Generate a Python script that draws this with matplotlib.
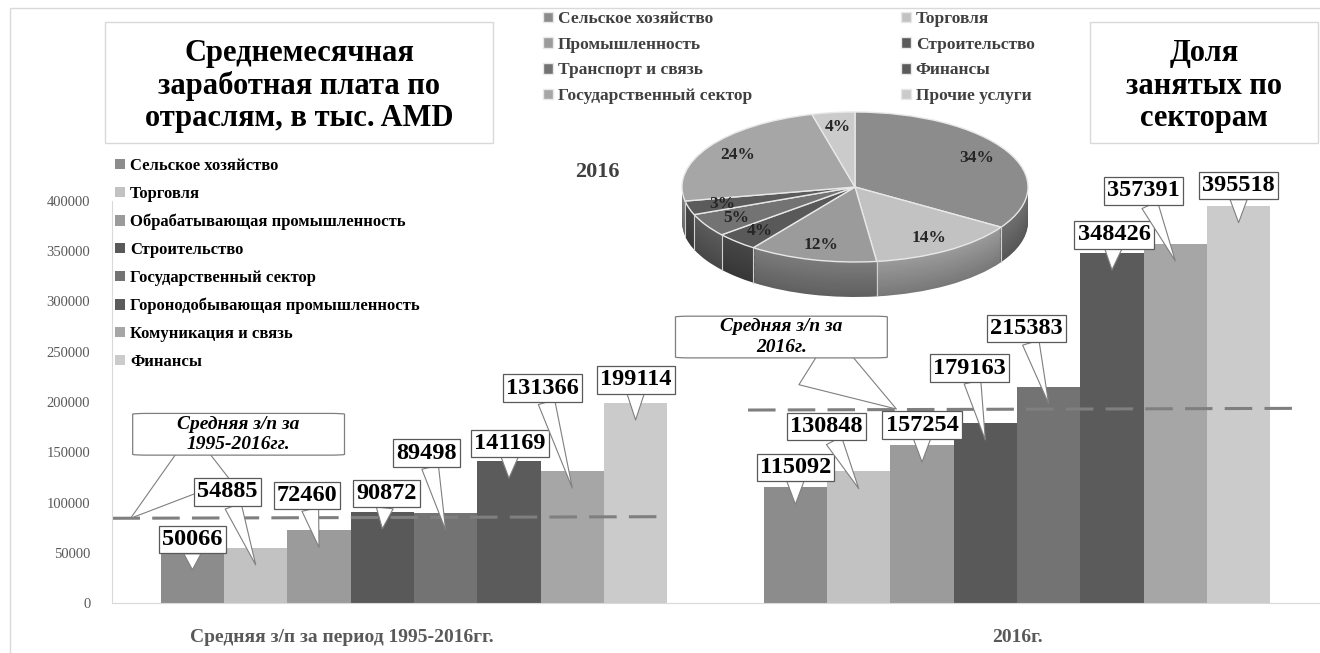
import numpy as np
import matplotlib.pyplot as plt
from matplotlib.colors import to_rgb
from matplotlib.patches import Rectangle

plt.rcParams['font.family'] = ['Liberation Serif', 'DejaVu Serif']

# ---- данные ----
sectors = ['Сельское хозяйство', 'Торговля', 'Обрабатывающая промышленность',
           'Строительство', 'Государственный сектор',
           'Горонодобывающая промышленность', 'Комуникация и связь', 'Финансы']
groups = ['Средняя з/п за период 1995-2016гг.', '2016г.']
wage_1995_2016 = [50066, 54885, 72460, 90872, 89498, 141169, 131366, 199114]
wage_2016 = [115092, 130848, 157254, 179163, 215383, 348426, 357391, 395518]
avg_1995_2016 = [84300, 85900]
avg_2016 = [192000, 193700]
yticks = [0, 50000, 100000, 150000, 200000, 250000, 300000, 350000, 400000]

pie_sectors = ['Сельское хозяйство', 'Торговля', 'Промышленность', 'Строительство',
               'Транспорт и связь', 'Финансы', 'Государственный сектор', 'Прочие услуги']
pie_shares = [34, 14, 12, 4, 5, 3, 24, 4]

# ---- стиль ----
bar_colors = ['#8c8c8c', '#c2c2c2', '#9b9b9b', '#595959', '#737373', '#5b5b5b', '#a6a6a6', '#cbcbcb']
pie_colors = bar_colors
# смещения подписей (px) относительно острия выноски
box_off_1 = [(0, 30), (-28, 73), (-12, 52), (4, 35), (-19, 77), (1, 35), (-30, 100), (0, 40)]
box_off_2 = [(0, 37), (-32, 62), (0, 37), (-16, 72), (-22, 75), (2, 35), (-32, 70), (0, 37)]
tip_drop = 17000
bar_w = 0.105
line_span = [(-0.5, 0.416), (-0.446, 0.469)]

W, H = 1320, 653
fig = plt.figure(figsize=(W / 100, H / 100), dpi=100)

# рамка диаграммы
fig.add_artist(Rectangle((10 / W, -0.05), 1.1, 1 - 8 / H + 0.05, transform=fig.transFigure,
                         fill=False, ec='#d9d9d9', lw=1))

ax = fig.add_axes([112.5 / W, 1 - 603 / H, 1206 / W, 402 / H])
cats = np.arange(len(groups))
for i, name in enumerate(sectors):
    xs = cats + (i - 3.5) * bar_w
    vals = [wage_1995_2016[i], wage_2016[i]]
    ax.bar(xs, vals, bar_w, color=bar_colors[i], label=name, zorder=1)
    for g, (x, v) in enumerate(zip(xs, vals)):
        off = (box_off_1 if g == 0 else box_off_2)[i]
        ax.annotate(str(v), xy=(x, v - tip_drop), xytext=off, textcoords='offset pixels',
                    ha='center', va='center', fontsize=17.5, fontweight='bold', color='black',
                    bbox=dict(boxstyle='square,pad=0.13', fc='white', ec='#595959', lw=0.9),
                    arrowprops=dict(arrowstyle='wedge,tail_width=0.7,shrink_factor=0.5',
                                    fc='white', ec='#7f7f7f', lw=0.8, shrinkA=0, shrinkB=0),
                    zorder=5)

# средние линии
for c, avg, (a, b) in zip(cats, [avg_1995_2016, avg_2016], line_span):
    ax.plot([c + a, c + b], avg, color='#7f7f7f', lw=2.2, dashes=(9, 4), zorder=2)

callout_kw = dict(textcoords='offset pixels', ha='center', va='center', fontsize=14,
                  fontweight='bold', style='italic', color='black', linespacing=1.25, zorder=4)
callout_box = dict(boxstyle='round,pad=2.3,rounding_size=0.8', mutation_aspect=0.05,
                   fc='white', ec='#7f7f7f', lw=0.9)
callout_arrow = dict(arrowstyle='wedge,tail_width=3.2,shrink_factor=0.5',
                     fc='white', ec='#7f7f7f', lw=0.8, shrinkA=0, shrinkB=0)
ax.annotate('Средняя з/п за\n1995-2016гг.', xy=(-0.47, avg_1995_2016[0]), xytext=(108, 84),
            bbox=callout_box, arrowprops=callout_arrow, **callout_kw)
ax.annotate('Средняя з/п за\n2016г.', xy=(0.80, 193000), xytext=(-115, 72),
            bbox=callout_box, arrowprops=callout_arrow, **callout_kw)

ax.set_xlim(-0.5, 1.5)
ax.set_ylim(0, 400000)
ax.set_yticks(yticks)
ax.set_yticklabels([str(t) for t in yticks], fontsize=10.5, color='#595959')
ax.tick_params(axis='y', length=0, pad=16)
ax.set_xticks([])
for s in ['top', 'right']:
    ax.spines[s].set_visible(False)
for s in ['left', 'bottom']:
    ax.spines[s].set_color('#d9d9d9')
label_shift = [-0.12, 0.0]
for c, lab, sh in zip(cats, groups, label_shift):
    ax.text(c + sh, -0.085, lab, transform=ax.get_xaxis_transform(), ha='center', va='center',
            fontsize=14, fontweight='bold', color='#595959')

ax.legend(loc='upper left', bbox_to_anchor=(115 / W, 1 - 158 / H), bbox_transform=fig.transFigure,
          frameon=False, prop=dict(weight='bold', size=12), handlelength=0.6, handleheight=0.6,
          handletextpad=0.3, labelspacing=0.71, borderaxespad=0, borderpad=0)

# ---- круговая диаграмма ----
rx, ry, depth_px = 173, 75, 35
depth = depth_px / ry
pax = fig.add_axes([682 / W, 1 - 297 / H, 2 * rx / W, (2 * ry + depth_px) / H])
n_layers = 30
for k in range(n_layers, 0, -1):
    f = 0.62 + 0.18 * (1 - k / n_layers)
    shade = [tuple(np.array(to_rgb(c)) * f) for c in pie_colors]
    pax.pie(pie_shares, colors=shade, startangle=90, counterclock=False,
            center=(0, -depth * k / n_layers), wedgeprops=dict(linewidth=0))
# линии на боковой стенке
bounds = 90 - 3.6 * np.cumsum([0] + pie_shares)
for th in np.deg2rad(bounds):
    if np.sin(th) < 0:
        pax.plot([np.cos(th)] * 2, [np.sin(th), np.sin(th) - depth], color='#d0d0d0', lw=0.8)
wedges, _, pct = pax.pie(pie_shares, colors=pie_colors, startangle=90, counterclock=False,
                         autopct='%.0f%%', pctdistance=0.8,
                         wedgeprops=dict(edgecolor='#e8e8e8', linewidth=1),
                         textprops=dict(fontsize=12.5, fontweight='bold', color='#262626'))
pax.set_xlim(-1, 1)
pax.set_ylim(-1 - depth, 1)
pax.set_aspect('auto')
pax.axis('off')

leg_kw = dict(loc='upper left', frameon=False, prop=dict(weight='bold', size=12.5),
              handlelength=0.55, handleheight=0.55, handletextpad=0.3, labelspacing=0.56,
              borderaxespad=0, borderpad=0, labelcolor='#404040')
fig.legend(wedges[0::2], pie_sectors[0::2], bbox_to_anchor=(543 / W, 1 - 11 / H), **leg_kw)
fig.legend(wedges[1::2], pie_sectors[1::2], bbox_to_anchor=(901 / W, 1 - 11 / H), **leg_kw)

fig.text(597 / W, 1 - 172 / H, '2016', ha='center', va='center', fontsize=16,
         fontweight='bold', color='#404040')

# ---- заголовки ----
for (x0, x1), txt in [((105, 493), 'Среднемесячная\nзаработная плата по\nотраслям, в тыс. AMD'),
                      ((1090, 1318), 'Доля\nзанятых по\nсекторам')]:
    fig.add_artist(Rectangle((x0 / W, 1 - 143 / H), (x1 - x0) / W, 121 / H,
                             transform=fig.transFigure, fc='white', ec='#d9d9d9', lw=1))
    fig.text((x0 + x1) / 2 / W, 1 - 86 / H, txt, ha='center', va='center', fontsize=22,
             fontweight='bold', linespacing=1.15)

fig.savefig('out.png', dpi=100)
